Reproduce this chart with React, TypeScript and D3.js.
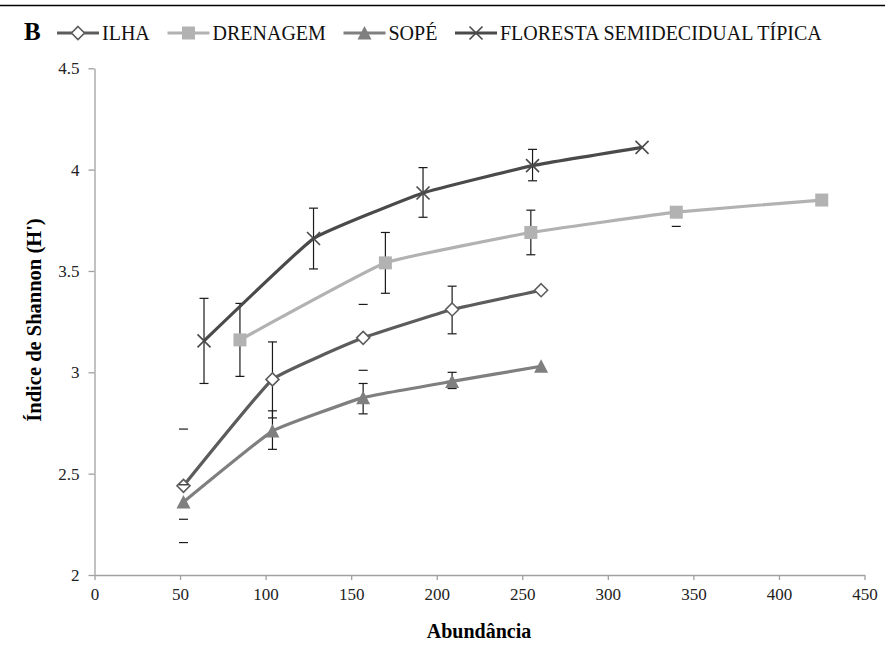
import * as d3 from "d3";
import React, { useRef, useEffect } from "react";

// series (x = abundância, y = índice de Shannon, err = barra de erro)
const seriesNames = ["ILHA", "DRENAGEM", "SOPÉ", "FLORESTA SEMIDECIDUAL TÍPICA"];

const ilhaX = [52, 104, 157, 209, 261];
const ilhaY = [2.44, 2.965, 3.17, 3.31, 3.405];
const ilhaErrUp = [0.28, 0.185, 0.165, 0.115, 0];
const ilhaErrDown = [0.28, 0.19, 0.16, 0.12, 0];
const ilhaStem = [false, true, false, true, false];

const drenagemX = [85, 170, 255, 340, 425];
const drenagemY = [3.16, 3.54, 3.69, 3.79, 3.85];
const drenagemErrUp = [0.18, 0.15, 0.11, 0, 0];
const drenagemErrDown = [0.18, 0.15, 0.11, 0.07, 0];
const drenagemStem = [true, true, true, false, false];

const sopeX = [52, 104, 157, 209, 261];
const sopeY = [2.36, 2.71, 2.875, 2.955, 3.03];
const sopeErrUp = [0.085, 0.1, 0.07, 0.045, 0];
const sopeErrDown = [0.085, 0.09, 0.08, 0.035, 0];
const sopeStem = [false, true, true, true, false];

const florestaX = [64, 128, 192, 256, 320];
const florestaY = [3.155, 3.66, 3.885, 4.02, 4.11];
const florestaErrUp = [0.21, 0.15, 0.125, 0.08, 0];
const florestaErrDown = [0.21, 0.15, 0.12, 0.075, 0];
const florestaStem = [true, true, true, true, false];

const xTicks = [0, 50, 100, 150, 200, 250, 300, 350, 400, 450];
const yTicks = [2, 2.5, 3, 3.5, 4, 4.5];

const FONT = "'Liberation Serif', 'Times New Roman', serif";

function App() {
  const ref = useRef(null);

  useEffect(() => {
    document.body.style.margin = "0";
    draw();
  }, []);

  const draw = () => {
    const svg = d3.select(ref.current);
    svg.selectAll("*").remove();

    const x = d3.scaleLinear().domain([0, 450]).range([94.5, 864.5]);
    const y = d3.scaleLinear().domain([2, 4.5]).range([575, 68.3]);

    // top rule
    svg.append("line")
      .attr("x1", 0).attr("x2", 885)
      .attr("y1", 5.5).attr("y2", 5.5)
      .attr("stroke", "#000").attr("stroke-width", 1.5);

    // axes
    const xAxis = d3.axisBottom(x).tickValues(xTicks).tickSize(5).tickSizeOuter(0).tickPadding(8);
    const yAxis = d3.axisLeft(y).tickValues(yTicks).tickSize(6).tickSizeOuter(0).tickPadding(9)
      .tickFormat((d) => String(d));

    const gx = svg.append("g").attr("transform", "translate(0,575)").call(xAxis);
    const gy = svg.append("g").attr("transform", "translate(94.5,0)").call(yAxis);
    [gx, gy].forEach((g) => {
      g.attr("font-family", FONT).attr("font-size", 17);
      g.select(".domain").attr("stroke", "#a0a0a0").attr("stroke-width", 1.3);
      g.selectAll(".tick line").attr("stroke", "#a0a0a0").attr("stroke-width", 1.3);
      g.selectAll(".tick text")
        .attr("font-family", FONT)
        .attr("font-size", 17)
        .attr("fill", "#222");
    });

    // axis titles
    svg.append("text")
      .attr("x", 479).attr("y", 638)
      .attr("text-anchor", "middle")
      .attr("font-family", FONT).attr("font-weight", "bold").attr("font-size", 20)
      .text("Abundância");

    svg.append("text")
      .attr("transform", "translate(41,320) rotate(-90)")
      .attr("text-anchor", "middle")
      .attr("font-family", FONT).attr("font-weight", "bold").attr("font-size", 20.5)
      .text("Índice de Shannon (H')");

    const series = [
      { name: seriesNames[0], xs: ilhaX, ys: ilhaY, up: ilhaErrUp, down: ilhaErrDown, stem: ilhaStem, color: "#5c5c5c", marker: "diamond" },
      { name: seriesNames[1], xs: drenagemX, ys: drenagemY, up: drenagemErrUp, down: drenagemErrDown, stem: drenagemStem, color: "#b2b2b2", marker: "square" },
      { name: seriesNames[2], xs: sopeX, ys: sopeY, up: sopeErrUp, down: sopeErrDown, stem: sopeStem, color: "#7f7f7f", marker: "triangle" },
      { name: seriesNames[3], xs: florestaX, ys: florestaY, up: florestaErrUp, down: florestaErrDown, stem: florestaStem, color: "#4a4a4a", marker: "cross" },
    ];

    const line = d3.line()
      .x((d) => x(d[0]))
      .y((d) => y(d[1]))
      .curve(d3.curveCardinal.tension(0.7));

    const drawMarker = (g, kind, color, cx, cy) => {
      if (kind === "diamond") {
        g.append("path")
          .attr("d", `M${cx},${cy - 6.5}L${cx + 6.5},${cy}L${cx},${cy + 6.5}L${cx - 6.5},${cy}Z`)
          .attr("fill", "#fff").attr("stroke", color).attr("stroke-width", 1.6);
      } else if (kind === "square") {
        g.append("rect")
          .attr("x", cx - 6.5).attr("y", cy - 6.5)
          .attr("width", 13).attr("height", 13)
          .attr("fill", color);
      } else if (kind === "triangle") {
        g.append("path")
          .attr("d", `M${cx},${cy - 7}L${cx + 7},${cy + 6.5}L${cx - 7},${cy + 6.5}Z`)
          .attr("fill", color);
      } else {
        g.append("path")
          .attr("d", `M${cx - 6.5},${cy - 6.5}L${cx + 6.5},${cy + 6.5}M${cx - 6.5},${cy + 6.5}L${cx + 6.5},${cy - 6.5}`)
          .attr("stroke", color).attr("stroke-width", 1.6).attr("fill", "none");
      }
    };

    series.forEach((s) => {
      const g = svg.append("g");
      const pts = s.xs.map((v, i) => [v, s.ys[i]]);

      // error bars
      pts.forEach((p, i) => {
        if (s.up[i] === 0 && s.down[i] === 0) return;
        const px = x(p[0]);
        const y1 = y(p[1] + s.up[i]);
        const y2 = y(p[1] - s.down[i]);
        if (s.stem[i]) {
          g.append("line").attr("x1", px).attr("x2", px).attr("y1", y1).attr("y2", y2)
            .attr("stroke", "#1a1a1a").attr("stroke-width", 1.2);
        }
        [y1, y2].forEach((yy) => {
          g.append("line").attr("x1", px - 4.5).attr("x2", px + 4.5).attr("y1", yy).attr("y2", yy)
            .attr("stroke", "#1a1a1a").attr("stroke-width", 1.2);
        });
      });

      g.append("path")
        .attr("d", line(pts))
        .attr("fill", "none")
        .attr("stroke", s.color)
        .attr("stroke-width", 3.2);

      pts.forEach((p) => drawMarker(g, s.marker, s.color, x(p[0]), y(p[1])));
    });

    // legend
    svg.append("text")
      .attr("x", 24).attr("y", 40)
      .attr("font-family", FONT).attr("font-weight", "bold").attr("font-size", 25)
      .text("B");

    const legendPos = [57, 167.5, 343.5, 455];
    series.forEach((s, i) => {
      const lx = legendPos[i];
      const g = svg.append("g");
      g.append("line").attr("x1", lx).attr("x2", lx + 42).attr("y1", 33).attr("y2", 33)
        .attr("stroke", s.color).attr("stroke-width", 3.2);
      drawMarker(g, s.marker, s.color, lx + 21, 33);
      g.append("text")
        .attr("x", lx + 45).attr("y", 39.5)
        .attr("font-family", FONT).attr("font-size", 20)
        .attr("fill", "#111")
        .text(s.name);
    });
  };

  return (
    <svg ref={ref} width={885} height={649}
      style={{ position: "absolute", left: 0, top: 0, background: "#fff" }}></svg>
  );
}

export default App;
